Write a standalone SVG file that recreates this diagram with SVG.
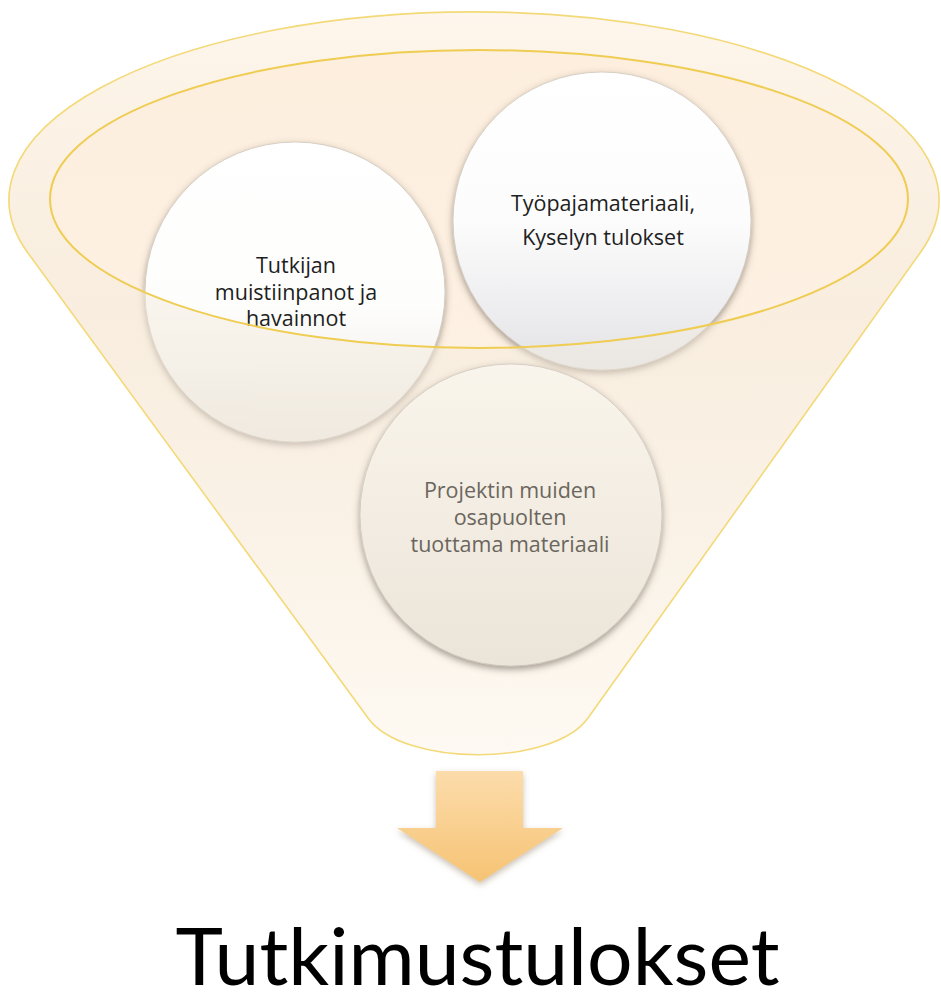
<svg xmlns="http://www.w3.org/2000/svg" width="941" height="994" viewBox="0 0 941 994">
  <defs>
    <style>
      .label { font-family: "Open Sans", "Noto Sans", sans-serif; font-size: 21.5px; fill: #1e1e1e; text-anchor: middle; }
      .label.muted { fill: #6b665d; }
      .title { font-family: Lato, "Open Sans", sans-serif; font-size: 80px; fill: #000; text-anchor: middle; }
      .ball { stroke: #cfc8bc; stroke-width: 0.8; filter: url(#ballShadow); }
      .rim { fill: none; stroke: #f3d978; stroke-width: 1.6; }
      .mouth { fill: none; stroke: #efcc52; stroke-width: 2; }
    </style>
    <!-- funnel back wall -->
    <linearGradient id="backFill" gradientUnits="userSpaceOnUse" x1="0" y1="12" x2="0" y2="760">
      <stop offset="0" stop-color="#fdeedd"/>
      <stop offset="0.45" stop-color="#fdf1e3"/>
      <stop offset="1" stop-color="#fffbf5"/>
    </linearGradient>
    <!-- translucent front wall of the funnel -->
    <linearGradient id="frontFill" gradientUnits="userSpaceOnUse" x1="0" y1="12" x2="0" y2="760">
      <stop offset="0" stop-color="#fffaf3" stop-opacity="0.7"/>
      <stop offset="0.4" stop-color="#f3eadb" stop-opacity="0.45"/>
      <stop offset="0.7" stop-color="#f6eee2" stop-opacity="0.45"/>
      <stop offset="1" stop-color="#fdf8f0" stop-opacity="0.5"/>
    </linearGradient>
    <linearGradient id="ballWarm" x1="0" y1="0" x2="0" y2="1">
      <stop offset="0" stop-color="#ffffff"/>
      <stop offset="0.55" stop-color="#fdfdfc"/>
      <stop offset="1" stop-color="#ebe7e0"/>
    </linearGradient>
    <linearGradient id="ballCool" x1="0" y1="0" x2="0" y2="1">
      <stop offset="0" stop-color="#ffffff"/>
      <stop offset="0.5" stop-color="#fcfcfc"/>
      <stop offset="1" stop-color="#e3e3e7"/>
    </linearGradient>
    <linearGradient id="ballCream" x1="0" y1="0" x2="0" y2="1">
      <stop offset="0" stop-color="#faf5ec"/>
      <stop offset="1" stop-color="#ebe4d9"/>
    </linearGradient>
    <linearGradient id="arrowFill" x1="0" y1="0" x2="0" y2="1">
      <stop offset="0" stop-color="#fcdcab"/>
      <stop offset="1" stop-color="#f6c374"/>
    </linearGradient>
    <filter id="ballShadow" x="-20%" y="-20%" width="140%" height="150%">
      <feDropShadow dx="0" dy="3" stdDeviation="3.5" flood-color="#5a4e40" flood-opacity="0.55"/>
    </filter>
    <filter id="arrowShadow" x="-20%" y="-20%" width="140%" height="150%">
      <feDropShadow dx="0" dy="3" stdDeviation="3" flood-color="#7a6040" flood-opacity="0.4"/>
    </filter>
  </defs>

  <rect width="941" height="994" fill="#ffffff"/>

  <!-- funnel body, back wall -->
  <g id="funnel-back">
    <path d="M27.6,252.5 A465,188 0 1 1 920.4,252.5 L588,718 C553,767 403,767 368,718 Z" fill="url(#backFill)"/>
  </g>

  <!-- items seen through the funnel mouth -->
  <g id="node-tutkijan">
    <circle class="ball" cx="295" cy="292" r="150" fill="url(#ballWarm)"/>
    <text class="label" x="296" y="273">Tutkijan</text>
    <text class="label" x="296" y="299.5">muistiinpanot ja</text>
    <text class="label" x="296" y="326">havainnot</text>
  </g>

  <g id="node-tyopaja">
    <circle class="ball" cx="602" cy="221" r="149" fill="url(#ballCool)"/>
    <text class="label" x="603" y="210.5">Työpajamateriaali,</text>
    <text class="label" x="603" y="245">Kyselyn tulokset</text>
  </g>

  <!-- funnel front wall with the open mouth cut out, then outlines -->
  <g id="funnel-front">
    <path fill-rule="evenodd" fill="url(#frontFill)"
          d="M27.6,252.5 A465,188 0 1 1 920.4,252.5 L588,718 C553,767 403,767 368,718 Z
             M50,199 A429,149 0 1 0 908,199 A429,149 0 1 0 50,199 Z"/>
    <path class="rim" d="M27.6,252.5 A465,188 0 1 1 920.4,252.5 L588,718 C553,767 403,767 368,718 Z"/>
    <ellipse class="mouth" cx="479" cy="199" rx="429" ry="149"/>
  </g>

  <!-- item lying below the mouth, tinted by the funnel wall -->
  <g id="node-projektin">
    <circle class="ball" cx="511" cy="515" r="151" fill="url(#ballCream)"/>
    <text class="label muted" x="510" y="498">Projektin muiden</text>
    <text class="label muted" x="510" y="525">osapuolten</text>
    <text class="label muted" x="510" y="552">tuottama materiaali</text>
  </g>

  <!-- output arrow -->
  <g id="connectors">
    <path d="M436,771 L523,771 L523,828 L563,828 L480,882 L397,828 L436,828 Z" fill="url(#arrowFill)" filter="url(#arrowShadow)"/>
  </g>

  <g id="result-label">
    <text class="title" x="477.5" y="985" textLength="604" lengthAdjust="spacingAndGlyphs">Tutkimustulokset</text>
  </g>
</svg>
